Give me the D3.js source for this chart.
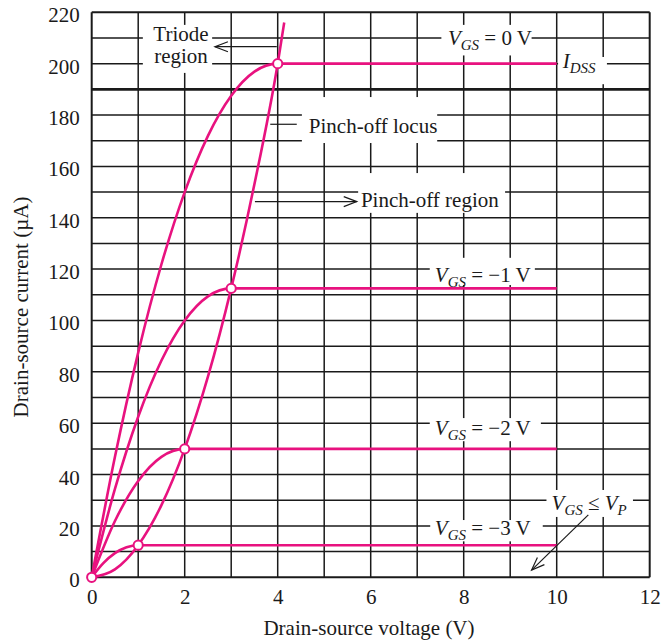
<!DOCTYPE html>
<html><head><meta charset="utf-8">
<script src="https://cdn.jsdelivr.net/npm/d3@7/dist/d3.min.js"></script>
<style>
body{margin:0;background:#fff}
text{font-family:"Liberation Serif","Times New Roman",serif;fill:#1a1a1a}
</style>
</head><body>
<svg id="c" width="666" height="641"></svg>
<script>
// ---------- data ----------
const xTickValues = [0, 2, 4, 6, 8, 10, 12];
const yTickValues = [0, 20, 40, 60, 80, 100, 120, 140, 160, 180, 200, 220];
const xGridValues = [0,1,2,3,4,5,6,7,8,9,10,11,12];
const yGridValues = [0,10,20,30,40,50,60,70,80,90,100,110,120,130,140,150,160,170,180,190,200,210,220];
const xLabel = "Drain-source voltage (V)";
const yLabel = "Drain-source current (\u00B5A)";

// drain current (µA) vs drain-source voltage (V)
const vgs0  = [[0,0],[0.5,46.9],[1,87.5],[1.5,121.9],[2,150],[2.5,171.9],[3,187.5],[3.5,196.9],[4,200],[10,200]];
const vgsM1 = [[0,0],[0.5,34.4],[1,62.5],[1.5,84.4],[2,100],[2.5,109.4],[3,112.5],[10,112.5]];
const vgsM2 = [[0,0],[0.5,21.9],[1,37.5],[1.5,46.9],[2,50],[10,50]];
const vgsM3 = [[0,0],[0.25,5.5],[0.5,9.4],[0.75,11.7],[1,12.5],[10,12.5]];
const pinchLocus = [[0,0],[0.5,3.1],[1,12.5],[1.5,28.1],[2,50],[2.5,78.1],[3,112.5],[3.5,153.1],[4,200],[4.14,216]];
const pinchPoints = [[0,0],[1,12.5],[2,50],[3,112.5],[4,200]];

// ---------- setup ----------
const PINK = "#e8127f", INK = "#1a1a1a";
const svg = d3.select("#c");
const x = d3.scaleLinear().domain([0, 12]).range([91.7, 649.7]);
const y = d3.scaleLinear().domain([0, 220]).range([577.3, 12.3]);

// grid
const g = svg.append("g");
g.selectAll("line.v").data(xGridValues).join("line")
  .attr("x1", d => x(d)).attr("x2", d => x(d))
  .attr("y1", y(0)).attr("y2", y(220))
  .attr("stroke", INK).attr("stroke-width", d => (d === 0 || d === 12) ? 2 : 1.5);
g.selectAll("line.h").data(yGridValues).join("line")
  .attr("y1", d => y(d)).attr("y2", d => y(d))
  .attr("x1", x(0)).attr("x2", x(12))
  .attr("stroke", INK).attr("stroke-width", d => d === 190 ? 2.6 : (d === 0 || d === 220) ? 2 : 1.5);

// white label boxes [x0, x1, yTop, yBottom] in data units
const boxes = [
  [1.10, 2.59, 215.1, 196.4],   // Triode region
  [7.52, 9.46, 215.1, 203.2],   // VGS = 0
  [10.03, 11.08, 202.6, 192.0], // IDSS
  [4.52, 7.43, 187.0, 169.1],   // Pinch-off locus
  [5.73, 8.89, 157.4, 141.9],   // Pinch-off region
  [7.27, 9.53, 124.4, 113.8],   // VGS = -1
  [7.27, 9.66, 62.0, 53.0],     // VGS = -2
  [7.28, 9.70, 22.3, 14.0],     // VGS = -3
  [9.78, 11.64, 34.0, 23.5]     // VGS <= VP
];
svg.append("g").selectAll("rect").data(boxes).join("rect")
  .attr("x", d => x(d[0])).attr("width", d => x(d[1]) - x(d[0]))
  .attr("y", d => y(d[2])).attr("height", d => y(d[3]) - y(d[2]))
  .attr("fill", "#fff");

// curves
const line = d3.line().x(d => x(d[0])).y(d => y(d[1])).curve(d3.curveMonotoneX);
svg.append("g").selectAll("path").data([vgs0, vgsM1, vgsM2, vgsM3, pinchLocus]).join("path")
  .attr("d", line).attr("fill", "none").attr("stroke", PINK)
  .attr("stroke-width", 2.6).attr("stroke-linejoin", "round");
svg.append("g").selectAll("circle").data(pinchPoints).join("circle")
  .attr("cx", d => x(d[0])).attr("cy", d => y(d[1])).attr("r", 4.6)
  .attr("fill", "#fff").attr("stroke", PINK).attr("stroke-width", 2);

// annotation lines / arrows (from, to) in data units
const ann = svg.append("g").attr("stroke", INK).attr("stroke-width", 1.2).attr("fill", "none");
function arrow(p0, p1, head) {
  const a = [x(p0[0]), y(p0[1])], b = [x(p1[0]), y(p1[1])];
  ann.append("line").attr("x1", a[0]).attr("y1", a[1]).attr("x2", b[0]).attr("y2", b[1]);
  if (head) {
    const ang = Math.atan2(b[1] - a[1], b[0] - a[0]);
    const L = 13, W = 5;
    const ux = Math.cos(ang), uy = Math.sin(ang);
    const p1x = b[0] - ux * L - uy * W, p1y = b[1] - uy * L + ux * W;
    const p2x = b[0] - ux * L + uy * W, p2y = b[1] - uy * L - ux * W;
    ann.append("path").attr("d", `M${p1x},${p1y}L${b[0]},${b[1]}L${p2x},${p2y}`);
  }
}
arrow([3.98, 206.6], [2.65, 206.6], true);   // Triode region
arrow([3.51, 146.3], [5.70, 146.3], true);   // Pinch-off region
arrow([3.84, 176.4], [4.41, 176.4], false);  // Pinch-off locus leader
arrow([10.68, 24.3], [9.46, 2.8], true);     // VGS <= VP

// texts
const FS = 21, SUB = 15;
function label(xv, yv, parts, anchor) {
  const t = svg.append("text").attr("x", x(xv)).attr("y", y(yv))
    .attr("font-size", FS).attr("text-anchor", anchor || "start");
  let shifted = false;
  parts.forEach(p => {
    const s = t.append("tspan").text(p.t);
    if (p.i) s.attr("font-style", "italic");
    if (p.sub) { s.attr("font-size", SUB).attr("dy", 5); shifted = true; }
    else if (shifted) { s.attr("dy", -5); shifted = false; }
  });
  return t;
}
label(1.92, 209.0, [{t: "Triode"}], "middle");
label(1.92, 200.2, [{t: "region"}], "middle");
label(7.66, 207.3, [{t: "V", i: 1}, {t: "GS", i: 1, sub: 1}, {t: " = 0 V"}]);
label(10.13, 198.3, [{t: "I", i: 1}, {t: "DSS", i: 1, sub: 1}]);
label(4.67, 173.0, [{t: "Pinch-off locus"}]);
label(5.79, 144.2, [{t: "Pinch-off region"}]);
label(7.38, 115.1, [{t: "V", i: 1}, {t: "GS", i: 1, sub: 1}, {t: " = \u22121 V"}]);
label(7.38, 55.4, [{t: "V", i: 1}, {t: "GS", i: 1, sub: 1}, {t: " = \u22122 V"}]);
label(7.38, 16.5, [{t: "V", i: 1}, {t: "GS", i: 1, sub: 1}, {t: " = \u22123 V"}]);
label(9.89, 26.3, [{t: "V", i: 1}, {t: "GS", i: 1, sub: 1}, {t: " \u2264 "}, {t: "V", i: 1}, {t: "P", i: 1, sub: 1}]);

// axes
const xAxis = d3.axisBottom(x).tickValues(xTickValues).tickSize(0).tickPadding(12).tickFormat(d3.format("d"));
const yAxis = d3.axisLeft(y).tickValues(yTickValues).tickSize(0).tickPadding(12).tickFormat(d3.format("d"));
const gx = svg.append("g").attr("transform", `translate(0,${y(0)})`).call(xAxis);
const gy = svg.append("g").attr("transform", `translate(${x(0)},0)`).call(yAxis);
[gx, gy].forEach(a => {
  a.select(".domain").remove();
  a.selectAll("text").attr("font-size", FS).attr("font-family", null).style("fill", INK);
});
gy.selectAll("text").attr("dy", "0.45em");

svg.append("text").attr("x", 369).attr("y", 635).attr("text-anchor", "middle")
  .attr("font-size", FS).text(xLabel);
svg.append("text").attr("transform", "translate(28,307) rotate(-90)").attr("text-anchor", "middle")
  .attr("font-size", FS).text(yLabel);
</script>
</body></html>
